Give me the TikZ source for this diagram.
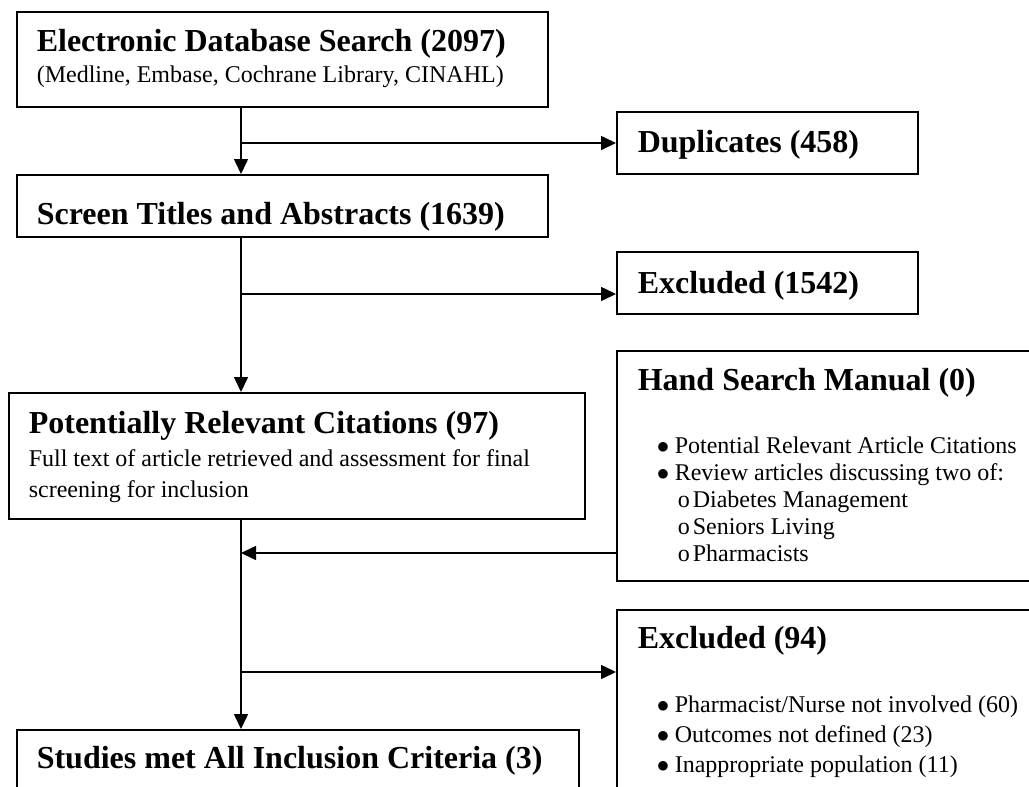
\documentclass[tikz,border=0pt]{standalone}
\usepackage{fontspec}
\setmainfont{Liberation Serif}
\usetikzlibrary{arrows.meta}

\tikzset{
  box/.style={draw, line width=2pt, anchor=north west, inner sep=0pt},
  head/.style={anchor=base west, inner sep=0pt, font=\fontsize{32}{38}\selectfont\bfseries},
  txt/.style={anchor=base west, inner sep=0pt, font=\fontsize{24}{31}\selectfont},
}

\begin{document}
\begin{tikzpicture}[x=1pt, y=-1pt, >={Triangle[length=15pt,width=14pt]}, line width=1.6pt]
		\useasboundingbox (0,0) rectangle (1029,787);
		\clip (0,0) rectangle (1029,787);
		% boxes
		\node[box, minimum width=531pt, minimum height=95pt] (db) at (16,11) {};
		\node[box, minimum width=531pt, minimum height=62pt] (screen) at (16,174) {};
		\node[box, minimum width=301pt, minimum height=62pt] (dup) at (616,111) {};
		\node[box, minimum width=301pt, minimum height=62pt] (excl1) at (616,251) {};
		\node[box, minimum width=576pt, minimum height=126pt] (pot) at (8,392) {};
		\node[box, minimum width=450pt, minimum height=230pt] (hand) at (616,350) {};
		\node[box, minimum width=450pt, minimum height=250pt] (excl2) at (616,609) {};
		\node[box, minimum width=562pt, minimum height=120pt] (studies) at (16,729) {};
		% texts
		\node[head] (dbhead) at (36,51) {Electronic Database Search (2097)};
		\node[txt] (dbsub) at (36,82) {(Medline, Embase, Cochrane Library, CINAHL)};
		\node[head] (screenhead) at (36,224) {Screen Titles and Abstracts (1639)};
		\node[head] (duphead) at (637,152) {Duplicates (458)};
		\node[head] (excl1head) at (637,293) {Excluded (1542)};
		\node[head] (pothead) at (28,433) {Potentially Relevant Citations (97)};
		\node[txt] (potsub1) at (28,466) {Full text of article retrieved and assessment for final};
		\node[txt] (potsub2) at (28,497) {screening for inclusion};
		\node[head] (handhead) at (637,390) {Hand Search Manual (0)};
		\node[txt] (hand1) at (656,453) {\makebox[18pt][l]{$\bullet$}Potential Relevant Article Citations};
		\node[txt] (hand2) at (656,480) {\makebox[18pt][l]{$\bullet$}Review articles discussing two of:};
		\node[txt] (hand3) at (677,507) {\makebox[15pt][l]{o}Diabetes Management};
		\node[txt] (hand4) at (677,534) {\makebox[15pt][l]{o}Seniors Living};
		\node[txt] (hand5) at (677,561) {\makebox[15pt][l]{o}Pharmacists};
		\node[head] (excl2head) at (637,648) {Excluded (94)};
		\node[txt] (excl2a) at (656,712) {\makebox[18pt][l]{$\bullet$}Pharmacist/Nurse not involved (60)};
		\node[txt] (excl2b) at (656,742) {\makebox[18pt][l]{$\bullet$}Outcomes not defined (23)};
		\node[txt] (excl2c) at (656,772) {\makebox[18pt][l]{$\bullet$}Inappropriate population (11)};
		\node[head] (studieshead) at (36,768) {Studies met All Inclusion Criteria (3)};
		% connectors
		\coordinate (stem) at (241,0);
		\coordinate (excl1in) at ([yshift=-11pt]excl1.west);
		\coordinate (handout) at ([yshift=29pt]hand.south west);
		\coordinate (excl2in) at ([yshift=-63pt]excl2.north west);
		\draw[->] (stem |- db.south) -- (stem |- screen.north);
		\draw[->] (stem |- dup.west) -- (dup.west);
		\draw[->] (stem |- screen.south) -- (stem |- pot.north);
		\draw[->] (stem |- excl1in) -- (excl1in);
		\draw[->] (stem |- pot.south) -- (stem |- studies.north);
		\draw[->] (handout) -- (stem |- handout);
		\draw[->] (stem |- excl2in) -- (excl2in);
\end{tikzpicture}
\end{document}
